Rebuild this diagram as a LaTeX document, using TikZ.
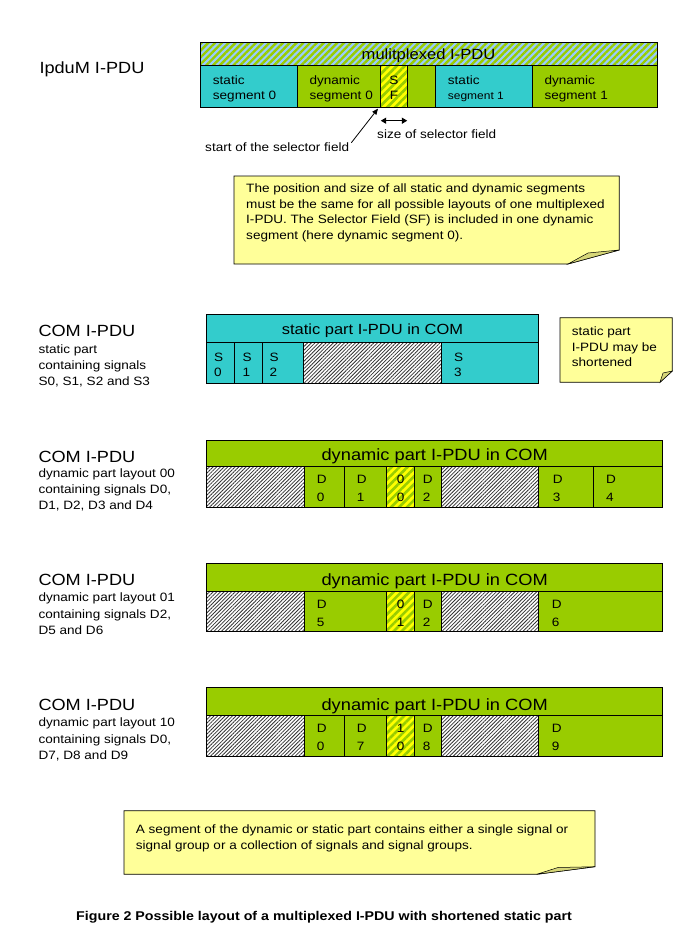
\documentclass[tikz,border=0pt]{standalone}
\usepackage{fontspec}
\setmainfont{Liberation Sans}
\usetikzlibrary{patterns.meta,arrows.meta}
\definecolor{cyanC}{RGB}{51,204,204}
\definecolor{greenC}{RGB}{153,204,0}
\definecolor{blueC}{RGB}{153,204,255}
\definecolor{sfY}{RGB}{255,255,0}
\definecolor{noteY}{RGB}{255,255,153}
\definecolor{foldY}{RGB}{214,214,120}
\definecolor{hatchK}{RGB}{50,50,50}
\newcommand\fsz[2]{\fontsize{#1}{#2}\selectfont}
\newcommand\dynrow[3]{%
  \fill[greenC] (206.7,#1) rectangle (662.7,#3);
  \fill[white] (206.7,#2) rectangle (304,#3);
  \path[grayhatch] (206.7,#2) rectangle (304,#3);
  \fill[white] (441,#2) rectangle (538.3,#3);
  \path[grayhatch] (441,#2) rectangle (538.3,#3);
  \fill[sfY] (386.7,#2) rectangle (414,#3);
  \path[sfhatch] (386.7,#2) rectangle (414,#3);
  \draw[box] (206.7,#1) rectangle (662.7,#3);
  \draw[box] (206.7,#2) -- (662.7,#2);
  \foreach \xx in {304,386.7,414,441,538.3} \draw[box] (\xx,#2) -- (\xx,#3);
}
\begin{document}
\begin{tikzpicture}[x=1pt,y=-1pt,
  txt/.style={inner sep=0pt, anchor=base west, xscale=1.12, font=\fsz{12.1}{15.6}},
  txtc/.style={txt, anchor=base},
  bigtxt/.style={txt, font=\fsz{16.2}{19}},
  box/.style={draw=black, line width=0.8pt},
  notebox/.style={fill=noteY, draw=black, line width=0.7pt},
  foldbox/.style={fill=foldY, draw=black, line width=0.5pt},
  grayhatch/.style={pattern={Lines[angle=45,distance=2.6pt,line width=0.8pt]}, pattern color=hatchK},
  sfhatch/.style={pattern={Lines[angle=45,distance=5.6pt,line width=2.6pt]}, pattern color=greenC},
  bluehatch/.style={pattern={Lines[angle=45,distance=4.8pt,line width=2.4pt]}, pattern color=greenC},
  arr/.style={line width=0.8pt}
]
\useasboundingbox[fill=white] (0,0) rectangle (689,930);

% ---------- IpduM I-PDU ----------
\node[bigtxt] (ipdum) at (39.3,73.3) {IpduM I-PDU};

\fill[blueC] (200,42.7) rectangle (657,65);
\path[bluehatch] (200,42.7) rectangle (657,65);
\fill[cyanC] (200,65) rectangle (297.3,107.3);
\fill[greenC] (297.3,65) rectangle (435.7,107.3);
\fill[sfY] (380.7,65) rectangle (407.3,107.3);
\path[sfhatch] (380.7,65) rectangle (407.3,107.3);
\fill[cyanC] (435.7,65) rectangle (532.7,107.3);
\fill[greenC] (532.7,65) rectangle (657,107.3);
\draw[box] (200,42.7) rectangle (657,107.3);
\draw[box] (200,65) -- (657,65);
\foreach \xx in {297.3,380.7,407.3,435.7,532.7} \draw[box] (\xx,65) -- (\xx,107.3);

\node[txtc, font=\fsz{14.8}{18}] (mpdu) at (428.5,59.5) {mulitplexed I-PDU};
\node[txt] (ss0a) at (212.7,84) {static};
\node[txt] (ss0b) at (212.7,99.3) {segment 0};
\node[txt] (ds0a) at (309.3,84) {dynamic};
\node[txt] (ds0b) at (309.3,99.3) {segment 0};
\node[txtc] (sfa) at (394,84) {S};
\node[txtc] (sfb) at (394,99.3) {F};
\node[txt] (ss1a) at (447.7,84) {static};
\node[txt, font=\fsz{10.7}{13}] (ss1b) at (447.7,99.3) {segment 1};
\node[txt] (ds1a) at (544.3,84) {dynamic};
\node[txt] (ds1b) at (544.3,99.3) {segment 1};

% arrows
\node[txt] (startlbl) at (205,151.7) {start of the selector field};
\node[txt] (sizelbl) at (377,138.3) {size of selector field};
\coordinate (sfstart) at (378,108.6);
\coordinate (sfl) at (380.7,120.7);
\coordinate (sfr) at (407.3,120.7);
\draw[arr, -{Triangle[length=6pt,width=5pt]}] ([xshift=2pt]startlbl.north east) -- (sfstart);
\draw[line width=1.5pt, {Triangle[length=5.5pt,width=6pt]}-{Triangle[length=5.5pt,width=6pt]}] (sfl) -- (sfr);

% note 1
\path[notebox] (234,176) -- (619.3,176) -- (619.3,250) -- (568,264) -- (234,264) -- cycle;
\path[foldbox] (568,264) -- (619.3,250) -- (588,253) -- cycle;
\node[txt] (n1a) at (246,192.7) {The position and size of all static and dynamic segments};
\node[txt] (n1b) at (246,208.3) {must be the same for all possible layouts of one multiplexed};
\node[txt] (n1c) at (246,223.9) {I-PDU. The Selector Field (SF) is included in one dynamic};
\node[txt] (n1d) at (246,239.5) {segment (here dynamic segment 0).};

% ---------- static COM row ----------
\node[bigtxt] (c1) at (38.3,336.5) {COM I-PDU};
\node[txt] (c1a) at (38.3,353) {static part};
\node[txt] (c1b) at (38.3,369) {containing signals};
\node[txt] (c1c) at (38.3,385) {S0, S1, S2 and S3};

\fill[cyanC] (206.7,314.3) rectangle (538.3,383.3);
\fill[white] (303.3,342.7) rectangle (441.7,383.3);
\path[grayhatch] (303.3,342.7) rectangle (441.7,383.3);
\draw[box] (206.7,314.3) rectangle (538.3,383.3);
\draw[box] (206.7,342.7) -- (538.3,342.7);
\foreach \xx in {234.3,262.3,303.3,441.7} \draw[box] (\xx,342.7) -- (\xx,383.3);
\node[txtc, font=\fsz{14.7}{18}] (st) at (372.5,334.5) {static part I-PDU in COM};
\node[txt] (s0a) at (214,361) {S};   \node[txt] (s0b) at (214,376) {0};
\node[txt] (s1a) at (242.3,361) {S}; \node[txt] (s1b) at (242.3,376) {1};
\node[txt] (s2a) at (269.3,361) {S}; \node[txt] (s2b) at (269.3,376) {2};
\node[txt] (s3a) at (454,361) {S};   \node[txt] (s3b) at (454,376) {3};

% note 2
\path[notebox] (560,317.7) -- (672.3,317.7) -- (672.3,371) -- (660,382.3) -- (560,382.3) -- cycle;
\path[foldbox] (660,382.3) -- (672.3,371) -- (663,373) -- cycle;
\node[txt] (n2a) at (571.7,335) {static part};
\node[txt] (n2b) at (571.7,351.3) {I-PDU may be};
\node[txt] (n2c) at (571.7,366.7) {shortened};

% ---------- dynamic layout 00 ----------
\node[bigtxt] (c2) at (38.3,462.5) {COM I-PDU};
\node[txt] (c2a) at (38.3,477.5) {dynamic part layout 00};
\node[txt] (c2b) at (38.3,493) {containing signals D0,};
\node[txt] (c2c) at (38.3,509) {D1, D2, D3 and D4};

\dynrow{440}{466.7}{507.7}
\foreach \xx in {344.3,593.3} \draw[box] (\xx,466.7) -- (\xx,507.7);
\node[txtc, font=\fsz{16.3}{19}] (d1t) at (434.7,460.5) {dynamic part I-PDU in COM};
\node[txt] (r1a) at (316.7,483.3) {D}; \node[txt] (r1b) at (316.7,501) {0};
\node[txt] (r1c) at (356.7,483.3) {D}; \node[txt] (r1d) at (356.7,501) {1};
\node[txt] (r1e) at (396.7,483.3) {0}; \node[txt] (r1f) at (396.7,501) {0};
\node[txt] (r1g) at (422.7,483.3) {D}; \node[txt] (r1h) at (422.7,501) {2};
\node[txt] (r1i) at (552.7,483.3) {D}; \node[txt] (r1j) at (552.7,501) {3};
\node[txt] (r1k) at (606,483.3) {D};   \node[txt] (r1l) at (606,501) {4};

% ---------- dynamic layout 01 ----------
\node[bigtxt] (c3) at (38.3,585.8) {COM I-PDU};
\node[txt] (c3a) at (38.3,601.5) {dynamic part layout 01};
\node[txt] (c3b) at (38.3,618) {containing signals D2,};
\node[txt] (c3c) at (38.3,634.7) {D5 and D6};

\dynrow{563.3}{591}{631.7}
\node[txtc, font=\fsz{16.3}{19}] (d2t) at (434.7,585.5) {dynamic part I-PDU in COM};
\node[txt] (r2a) at (316.7,608.3) {D}; \node[txt] (r2b) at (316.7,626) {5};
\node[txt] (r2e) at (396.7,608.3) {0}; \node[txt] (r2f) at (396.7,626) {1};
\node[txt] (r2g) at (422.7,608.3) {D}; \node[txt] (r2h) at (422.7,626) {2};
\node[txt] (r2i) at (551.7,608.3) {D}; \node[txt] (r2j) at (551.7,626) {6};

% ---------- dynamic layout 10 ----------
\node[bigtxt] (c4) at (38.3,710.8) {COM I-PDU};
\node[txt] (c4a) at (38.3,726.5) {dynamic part layout 10};
\node[txt] (c4b) at (38.3,743) {containing signals D0,};
\node[txt] (c4c) at (38.3,759.7) {D7, D8 and D9};

\dynrow{687.7}{715.7}{756.7}
\draw[box] (344.3,715.7) -- (344.3,756.7);
\node[txtc, font=\fsz{16.3}{19}] (d3t) at (434.7,710.5) {dynamic part I-PDU in COM};
\node[txt] (r3a) at (316.7,732.6) {D}; \node[txt] (r3b) at (316.7,750.3) {0};
\node[txt] (r3c) at (356.7,732.6) {D}; \node[txt] (r3d) at (356.7,750.3) {7};
\node[txt] (r3e) at (396.7,732.6) {1}; \node[txt] (r3f) at (396.7,750.3) {0};
\node[txt] (r3g) at (422.7,732.6) {D}; \node[txt] (r3h) at (422.7,750.3) {8};
\node[txt] (r3i) at (551.7,732.6) {D}; \node[txt] (r3j) at (551.7,750.3) {9};

% note 3
\path[notebox] (124,810.7) -- (595,810.7) -- (595,866.7) -- (536.7,874.3) -- (124,874.3) -- cycle;
\path[foldbox] (536.7,874.3) -- (595,866.7) -- (558,867.5) -- cycle;
\node[txt] (n3a) at (135.7,833.5) {A segment of the dynamic or static part contains either a single signal or};
\node[txt] (n3b) at (135.7,849) {signal group or a collection of signals and signal groups.};

% caption
\node[txtc, font=\fsz{12.7}{15}\bfseries] (cap) at (324,920.5) {Figure 2 Possible layout of a multiplexed I-PDU with shortened static part};
\end{tikzpicture}
\end{document}
